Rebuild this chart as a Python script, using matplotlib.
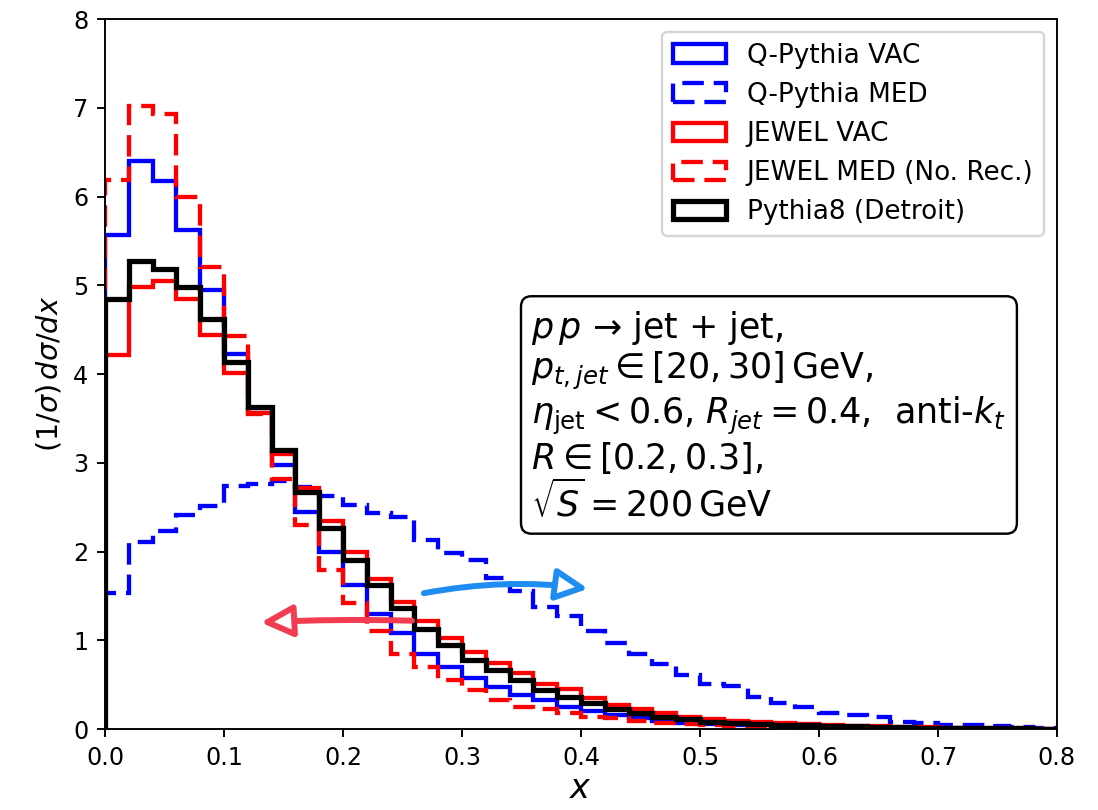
import numpy as np
import matplotlib
matplotlib.use("Agg")
import matplotlib.pyplot as plt

# bin edges, x from 0 to 0.8 in steps of 0.02
edges = np.linspace(0.0, 0.8, 41)

qpythia_vac = [5.57, 6.40, 6.17, 5.62, 4.95, 4.23, 3.62, 2.97, 2.45, 2.00,
               1.62, 1.30, 1.08, 0.85, 0.70, 0.57, 0.47, 0.38, 0.33, 0.25,
               0.20, 0.16, 0.12, 0.09, 0.07, 0.06, 0.05, 0.04, 0.03, 0.025,
               0.02, 0.015, 0.012, 0.01, 0.008, 0.006, 0.005, 0.004, 0.003, 0.002]
qpythia_med = [1.53, 2.11, 2.23, 2.41, 2.51, 2.74, 2.76, 2.80, 2.73, 2.62,
               2.52, 2.43, 2.39, 2.13, 1.98, 1.90, 1.70, 1.55, 1.38, 1.27,
               1.10, 0.97, 0.85, 0.73, 0.61, 0.51, 0.48, 0.36, 0.29, 0.25,
               0.18, 0.16, 0.13, 0.08, 0.064, 0.045, 0.04, 0.03, 0.02, 0.01]
jewel_vac = [4.21, 4.98, 5.05, 4.84, 4.44, 4.01, 3.56, 3.10, 2.71, 2.34,
             2.00, 1.69, 1.43, 1.22, 1.03, 0.87, 0.74, 0.63, 0.51, 0.45,
             0.35, 0.27, 0.23, 0.18, 0.14, 0.11, 0.09, 0.08, 0.065, 0.055,
             0.045, 0.035, 0.03, 0.025, 0.02, 0.015, 0.012, 0.01, 0.008, 0.005]
jewel_med = [6.19, 7.02, 6.93, 5.99, 5.21, 4.43, 3.55, 2.82, 2.30, 1.79,
             1.42, 1.10, 0.85, 0.70, 0.55, 0.44, 0.33, 0.25, 0.22, 0.18,
             0.14, 0.12, 0.09, 0.07, 0.055, 0.045, 0.035, 0.03, 0.025, 0.02,
             0.015, 0.012, 0.01, 0.008, 0.006, 0.005, 0.004, 0.003, 0.002, 0.001]
pythia8 = [4.85, 5.27, 5.18, 4.98, 4.62, 4.14, 3.63, 3.14, 2.67, 2.27,
           1.90, 1.62, 1.36, 1.13, 0.95, 0.78, 0.66, 0.55, 0.44, 0.36,
           0.29, 0.23, 0.18, 0.14, 0.11, 0.08, 0.07, 0.06, 0.05, 0.04,
           0.035, 0.03, 0.025, 0.02, 0.015, 0.012, 0.01, 0.008, 0.006, 0.004]

labels = ["Q-Pythia VAC", "Q-Pythia MED", "JEWEL VAC",
          "JEWEL MED (No. Rec.)", "Pythia8 (Detroit)"]

dpi = 172
fig = plt.figure(figsize=(1098 / dpi, 810 / dpi), dpi=dpi)
ax = fig.add_axes([0.0956, 0.1, 0.867, 0.8765])

dash = (0, (5, 2.3))
centers = 0.5 * (edges[:-1] + edges[1:])
series = [
    (qpythia_vac, "blue", "-", 1.8),
    (qpythia_med, "blue", dash, 1.8),
    (jewel_vac, "red", "-", 1.8),
    (jewel_med, "red", dash, 1.8),
    (pythia8, "black", "-", 2.2),
]
for (vals, col, ls, lw), lab in zip(series, labels):
    ax.hist(centers, bins=edges, weights=vals, histtype="step",
            color=col, linestyle=ls, linewidth=lw, label=lab)

ax.set_xlim(0, 0.8)
ax.set_ylim(0, 8)
ax.set_xlabel(r"$x$", fontsize=14, labelpad=1)
ax.set_ylabel(r"$(1/\sigma)\,d\sigma/dx$", fontsize=12)
ax.legend(loc="upper right", fontsize=11)

info = ("$p\\,p$ \u2192 jet + jet,\n"
        "$p_{t,jet} \\in [20, 30]\\,$GeV,\n"
        "$\\eta_{\\rm jet} < 0.6$, $R_{jet} = 0.4$,  anti-$k_t$\n"
        "$R \\in [0.2, 0.3]$,\n"
        "$\\sqrt{S} = 200\\,$GeV")
ax.text(0.448, 0.592, info, transform=ax.transAxes, fontsize=14.6,
        va="top", ha="left", linespacing=1.1,
        bbox=dict(boxstyle="round,pad=0.3", fc="white", ec="black"))

# hand-drawn style arrows
ax.annotate("", xy=(0.406, 1.58), xytext=(0.268, 1.53),
            arrowprops=dict(arrowstyle="-|>", color="#1e8cf0", fc="white",
                            lw=2.5, mutation_scale=28, shrinkA=0, shrinkB=0,
                            connectionstyle="arc3,rad=-0.08"))
ax.annotate("", xy=(0.131, 1.20), xytext=(0.258, 1.22),
            arrowprops=dict(arrowstyle="-|>", color="#f23c52", fc="white",
                            lw=2.5, mutation_scale=28, shrinkA=0, shrinkB=0,
                            connectionstyle="arc3,rad=0.02"))

fig.savefig("out.png", dpi=dpi)
